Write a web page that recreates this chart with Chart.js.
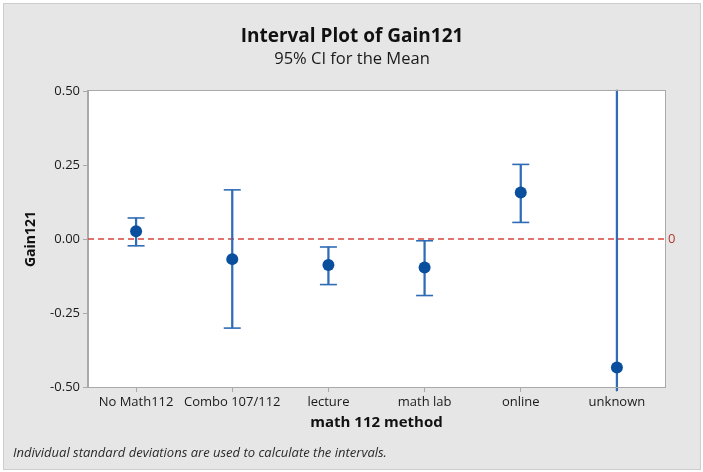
<!DOCTYPE html>
<html>
<head>
<meta charset="utf-8">
<script src="https://cdn.jsdelivr.net/npm/chart.js@4"></script>
<style>
  html, body { margin: 0; padding: 0; background: #ffffff; }
  #wrap { width: 703px; height: 472px; }
</style>
</head>
<body>
<div id="wrap"><canvas id="c" width="703" height="472"></canvas></div>
<script>
const categories = ["No Math112", "Combo 107/112", "lecture", "math lab", "online", "unknown"];
const means = [0.026, -0.068, -0.088, -0.096, 0.157, -0.434];
const upperCI = [0.071, 0.166, -0.027, -0.006, 0.252, 0.503];
const lowerCI = [-0.023, -0.301, -0.154, -0.191, 0.056, -0.512];
const showCaps = [true, true, true, true, true, false];
const yTicks = [-0.50, -0.25, 0.00, 0.25, 0.50];
const referenceValue = 0;

const FONT = "'Open Sans', 'Noto Sans', sans-serif";
const barColor = '#2f6cb5';
const dotColor = '#0a4f9e';

const decorPlugin = {
  id: 'decor',
  beforeDraw(chart) {
    const ctx = chart.ctx;
    ctx.save();
    ctx.fillStyle = '#ffffff';
    ctx.fillRect(0, 0, chart.width, chart.height);
    ctx.fillStyle = '#e6e6e6';
    ctx.fillRect(4, 4, 696, 465);
    ctx.strokeStyle = '#cdcdcd';
    ctx.lineWidth = 1;
    ctx.strokeRect(3.5, 3.5, 697, 466);
    const a = chart.chartArea;
    ctx.fillStyle = '#ffffff';
    ctx.fillRect(a.left, a.top, a.right - a.left, a.bottom - a.top);
    // titles
    ctx.fillStyle = '#111111';
    ctx.textAlign = 'center';
    ctx.textBaseline = 'middle';
    ctx.font = "bold 19px " + FONT;
    ctx.fillText('Interval Plot of Gain121', 352, 37);
    ctx.font = "16.5px " + FONT;
    ctx.fillStyle = '#1a1a1a';
    ctx.fillText('95% CI for the Mean', 352, 59);
    // footnote
    ctx.font = "italic 13px " + FONT;
    ctx.textAlign = 'left';
    ctx.fillStyle = '#2a2a2a';
    ctx.fillText('Individual standard deviations are used to calculate the intervals.', 13, 453);
    ctx.restore();
  },
  beforeDatasetsDraw(chart) {
    const ctx = chart.ctx;
    const a = chart.chartArea;
    const y = chart.scales.y.getPixelForValue(referenceValue);
    ctx.save();
    ctx.strokeStyle = '#d9443c';
    ctx.lineWidth = 1.5;
    ctx.setLineDash([6, 4]);
    ctx.beginPath();
    ctx.moveTo(a.left, y);
    ctx.lineTo(a.right, y);
    ctx.stroke();
    ctx.setLineDash([]);
    ctx.fillStyle = '#b03a2e';
    ctx.font = "13px " + FONT;
    ctx.textAlign = 'left';
    ctx.textBaseline = 'middle';
    ctx.fillText(String(referenceValue), a.right + 3, y);
    ctx.restore();
  },
  afterDraw(chart) {
    const ctx = chart.ctx;
    const a = chart.chartArea;
    ctx.save();
    ctx.strokeStyle = '#a9a9a9';
    ctx.lineWidth = 1;
    ctx.strokeRect(Math.round(a.left) - 0.5, Math.round(a.top) - 0.5, Math.round(a.right - a.left) + 1, Math.round(a.bottom - a.top) + 1);
    ctx.restore();
  }
};

const capData = (arr) => arr.map((v, i) => showCaps[i] ? v : null);

new Chart(document.getElementById('c'), {
  type: 'bar',
  data: {
    labels: categories,
    datasets: [
      {
        type: 'line',
        label: 'Mean',
        data: means,
        showLine: false,
        pointStyle: 'circle',
        pointRadius: 6,
        pointBackgroundColor: dotColor,
        pointBorderColor: dotColor,
        pointBorderWidth: 0,
        order: 0
      },
      {
        type: 'line',
        label: 'Upper cap',
        data: capData(upperCI),
        showLine: false,
        pointStyle: 'line',
        pointRadius: 8.5,
        pointBorderColor: barColor,
        pointBorderWidth: 1.6,
        order: 1
      },
      {
        type: 'line',
        label: 'Lower cap',
        data: capData(lowerCI),
        showLine: false,
        pointStyle: 'line',
        pointRadius: 8.5,
        pointBorderColor: barColor,
        pointBorderWidth: 1.6,
        order: 2
      },
      {
        type: 'bar',
        label: 'CI',
        data: lowerCI.map((lo, i) => [lo, upperCI[i]]),
        backgroundColor: barColor,
        borderWidth: 0,
        barThickness: 1.6,
        clip: false,
        grouped: false,
        order: 3
      }
    ]
  },
  options: {
    responsive: false,
    animation: false,
    events: [],
    layout: { padding: { left: 10, right: 38, top: 91, bottom: 36 } },
    plugins: {
      legend: { display: false },
      tooltip: { enabled: false },
      title: { display: false }
    },
    scales: {
      x: {
        type: 'category',
        offset: true,
        grid: { offset: false, drawOnChartArea: false, drawTicks: true, tickLength: 5, color: '#a9a9a9' },
        border: { display: true, color: '#a9a9a9' },
        ticks: { color: '#1a1a1a', font: { family: FONT, size: 13 }, padding: 2, maxRotation: 0, autoSkip: false },
        title: { display: true, text: 'math 112 method', color: '#111111', font: { family: FONT, size: 15, weight: 'bold' }, padding: { top: 0, bottom: 4 } },
        afterFit(scale) { scale.height = 49; }
      },
      y: {
        min: -0.5,
        max: 0.5,
        afterBuildTicks(scale) { scale.ticks = yTicks.map(v => ({ value: v })); },
        grid: { drawOnChartArea: false, drawTicks: true, tickLength: 5, color: '#a9a9a9' },
        border: { display: true, color: '#a9a9a9' },
        ticks: { color: '#1a1a1a', font: { family: FONT, size: 13 }, padding: 3, callback: (v) => Number(v).toFixed(2) },
        title: { display: true, text: 'Gain121', color: '#111111', font: { family: FONT, size: 14, weight: 'bold' }, padding: { top: 12.6, bottom: 0 } },
        afterFit(scale) { scale.width = 78; }
      }
    }
  },
  plugins: [decorPlugin]
});
</script>
</body>
</html>
